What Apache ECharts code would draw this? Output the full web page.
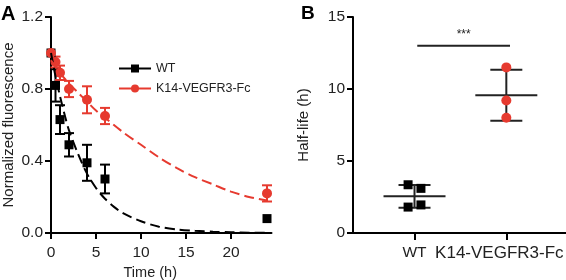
<!DOCTYPE html>
<html>
<head>
<meta charset="utf-8">
<script src="https://cdn.jsdelivr.net/npm/echarts@6/dist/echarts.min.js"></script>
<style>
html, body { margin: 0; background: #fff; }
#main { width: 566px; height: 280px; }
</style>
</head>
<body>
<div id="main"></div>
<script>
// panel A: time course (mean +/- error)
var wtTime = [0, 0.5, 1, 2, 4, 6, 24]
var wtMean = [1.0, 0.82, 0.63, 0.49, 0.39, 0.30, 0.08]
var wtErr = [0, 0.09, 0.08, 0.065, 0.10, 0.08, 0]
var kTime = [0, 0.5, 1, 2, 4, 6, 24]
var kMean = [1.0, 0.95, 0.89, 0.80, 0.74, 0.65, 0.22]
var kErr = [0, 0.03, 0.04, 0.045, 0.075, 0.045, 0.045]

// fitted decay curves
var wtFitT = [0, 0.5, 1, 1.5, 2, 3, 4, 5, 6, 7, 8, 10, 12, 14, 16, 18, 20, 22, 24]
var wtFitY = [1.0, 0.87, 0.76, 0.66, 0.57, 0.44, 0.33, 0.25, 0.19, 0.145, 0.11, 0.065, 0.035, 0.02, 0.012, 0.007, 0.004, 0.002, 0.001]
var kFitT = [0, 1, 2, 3, 4, 5, 6, 8, 10, 12, 14, 16, 18, 20, 22, 24]
var kFitY = [0.96, 0.89, 0.83, 0.78, 0.73, 0.68, 0.64, 0.56, 0.49, 0.42, 0.36, 0.31, 0.27, 0.23, 0.20, 0.18]

// panel B: half-lives
var groups = ['WT', 'K14-VEGFR3-Fc']
var wtHalfX = [0.93, 1.07, 0.93, 1.07]
var wtHalf = [3.35, 3.1, 1.8, 1.95]
var kHalfX = [2, 2, 2]
var kHalf = [11.5, 9.2, 8.0]
var sigX = [1.03, 2.04]
var sigY = 13
var sigText = '***'

var RED = '#e63a2f'
var FONT = 'Liberation Sans'

function mean(a) { return a.reduce(function (s, v) { return s + v }, 0) / a.length }
function sd(a) {
    var m = mean(a)
    return Math.sqrt(a.reduce(function (s, v) { return s + (v - m) * (v - m) }, 0) / (a.length - 1))
}
function zip(a, b, c) {
    return a.map(function (v, i) { return c ? [v, b[i], c[i]] : [v, b[i]] })
}

function errBar(color) {
    return function (params, api) {
        var x = api.value(0), y = api.value(1), e = api.value(2)
        if (!e) return
        var top = api.coord([x, y + e]), bot = api.coord([x, y - e])
        var st = { stroke: color, lineWidth: 2 }
        return {
            type: 'group',
            children: [
                { type: 'line', shape: { x1: top[0], y1: top[1], x2: bot[0], y2: bot[1] }, style: st },
                { type: 'line', shape: { x1: top[0] - 5, y1: top[1], x2: top[0] + 5, y2: top[1] }, style: st },
                { type: 'line', shape: { x1: bot[0] - 5, y1: bot[1], x2: bot[0] + 5, y2: bot[1] }, style: st }
            ]
        }
    }
}

function meanSd(params, api) {
    var x = api.value(0), m = api.value(1), s = api.value(2)
    var c = api.coord([x, m]), t = api.coord([x, m + s]), b = api.coord([x, m - s])
    var st = { stroke: '#222', lineWidth: 2 }
    return {
        type: 'group',
        children: [
            { type: 'line', shape: { x1: c[0] - 31, y1: c[1], x2: c[0] + 31, y2: c[1] }, style: st },
            { type: 'line', shape: { x1: t[0], y1: t[1], x2: b[0], y2: b[1] }, style: st },
            { type: 'line', shape: { x1: t[0] - 16, y1: t[1], x2: t[0] + 16, y2: t[1] }, style: st },
            { type: 'line', shape: { x1: b[0] - 16, y1: b[1], x2: b[0] + 16, y2: b[1] }, style: st }
        ]
    }
}

function sigBar(params, api) {
    var a = api.coord([api.value(0), api.value(2)]), b = api.coord([api.value(1), api.value(2)])
    return {
        type: 'group',
        children: [
            { type: 'line', shape: { x1: a[0], y1: a[1], x2: b[0], y2: b[1] }, style: { stroke: '#222', lineWidth: 2 } },
            { type: 'text', x: (a[0] + b[0]) / 2, y: a[1] - 11, style: { text: sigText, fill: '#222', font: '12px ' + FONT, align: 'center', verticalAlign: 'middle' } }
        ]
    }
}

var axisLine = { lineStyle: { color: '#000', width: 2 } }
var tickStyle = { lineStyle: { color: '#000', width: 2 }, length: 6 }
var labelStyle = { color: '#222', fontSize: 15.5, fontFamily: FONT }

var myChart = echarts.init(document.getElementById('main'))

myChart.setOption({
    animation: false,
    textStyle: { fontFamily: FONT },
    title: [
        { text: 'A', left: 1, top: 4, padding: 0, textStyle: { fontSize: 20, fontWeight: 'bold', color: '#000', fontFamily: FONT } },
        { text: 'B', left: 301, top: 4, padding: 0, textStyle: { fontSize: 19, fontWeight: 'bold', color: '#000', fontFamily: FONT } }
    ],
    legend: {
        orient: 'vertical',
        left: 113,
        top: 57,
        itemWidth: 32,
        itemHeight: 10,
        itemGap: 7,
        data: ['WT', 'K14-VEGFR3-Fc'],
        textStyle: { fontSize: 12.5, color: '#222', fontFamily: FONT }
    },
    grid: [
        { left: 51, top: 17, width: 220.5, height: 216, outerBoundsMode: 'none' },
        { left: 353, top: 17, width: 213, height: 216, outerBoundsMode: 'none' }
    ],
    xAxis: [
        {
            gridIndex: 0, type: 'value', min: 0, max: 24.5, interval: 5,
            name: 'Time (h)', nameLocation: 'middle', nameGap: 31,
            nameTextStyle: { fontSize: 14.5, color: '#222', fontFamily: FONT, padding: [0, 22, 0, 0] },
            axisLine: axisLine, axisTick: tickStyle, splitLine: { show: false },
            axisLabel: Object.assign({ margin: 12, showMaxLabel: false }, labelStyle)
        },
        {
            gridIndex: 1, type: 'value', min: 0.33, max: 2.65,
            axisLine: axisLine, splitLine: { show: false },
            axisTick: Object.assign({ customValues: [1, 2] }, tickStyle, { length: 7 }),
            axisLabel: Object.assign({
                customValues: [1, 2], margin: 12,
                formatter: function (v) { return v === 1 ? '{w|' + groups[0] + '}' : '{k|' + groups[1] + '}' },
                rich: {
                    w: { fontSize: 15.5, color: '#222', fontFamily: FONT },
                    k: { fontSize: 17, color: '#222', fontFamily: FONT, padding: [0, 14, 0, 0] }
                }
            }, labelStyle)
        }
    ],
    yAxis: [
        {
            gridIndex: 0, type: 'value', min: 0, max: 1.2, interval: 0.4,
            name: 'Normalized fluorescence', nameLocation: 'middle', nameGap: 35,
            nameTextStyle: { fontSize: 15, color: '#222', fontFamily: FONT },
            axisLine: axisLine, axisTick: tickStyle, splitLine: { show: false },
            axisLabel: Object.assign({ margin: 8, formatter: function (v) { return v.toFixed(1) } }, labelStyle)
        },
        {
            gridIndex: 1, type: 'value', min: 0, max: 15, interval: 5,
            name: 'Half-life (h)', nameLocation: 'middle', nameGap: 42,
            nameTextStyle: { fontSize: 15, color: '#222', fontFamily: FONT },
            axisLine: axisLine, axisTick: tickStyle, splitLine: { show: false },
            axisLabel: Object.assign({ margin: 8 }, labelStyle)
        }
    ],
    series: [
        // legend entries
        { name: 'WT', type: 'line', data: [], symbol: 'rect', symbolSize: 9, itemStyle: { color: '#000' }, lineStyle: { color: '#000', width: 2 } },
        { name: 'K14-VEGFR3-Fc', type: 'line', data: [], symbol: 'circle', symbolSize: 10, itemStyle: { color: RED }, lineStyle: { color: RED, width: 2 } },
        // fits
        {
            type: 'line', xAxisIndex: 0, yAxisIndex: 0, data: zip(wtFitT, wtFitY), smooth: 0.3, showSymbol: false,
            lineStyle: { color: '#000', width: 2, type: [10, 5] }
        },
        {
            type: 'line', xAxisIndex: 0, yAxisIndex: 0, data: zip(kFitT, kFitY), smooth: 0.3, showSymbol: false,
            lineStyle: { color: RED, width: 2, type: [10, 5] }
        },
        // WT points
        { type: 'custom', xAxisIndex: 0, yAxisIndex: 0, renderItem: errBar('#000'), data: zip(wtTime, wtMean, wtErr) },
        { type: 'scatter', xAxisIndex: 0, yAxisIndex: 0, symbol: 'rect', symbolSize: 9, itemStyle: { color: '#000', opacity: 1 }, data: zip(wtTime, wtMean) },
        // K14 points
        { type: 'custom', xAxisIndex: 0, yAxisIndex: 0, renderItem: errBar(RED), data: zip(kTime, kMean, kErr) },
        { type: 'scatter', xAxisIndex: 0, yAxisIndex: 0, symbol: 'circle', symbolSize: 10, itemStyle: { color: RED, opacity: 1 }, data: zip(kTime, kMean) },
        // panel B
        { type: 'custom', xAxisIndex: 1, yAxisIndex: 1, renderItem: meanSd, data: [[1, mean(wtHalf), sd(wtHalf)], [2, mean(kHalf), sd(kHalf)]] },
        { type: 'scatter', xAxisIndex: 1, yAxisIndex: 1, symbol: 'rect', symbolSize: 9, itemStyle: { color: '#000', opacity: 1 }, data: zip(wtHalfX, wtHalf) },
        { type: 'scatter', xAxisIndex: 1, yAxisIndex: 1, symbol: 'circle', symbolSize: 10, itemStyle: { color: RED, opacity: 1 }, data: zip(kHalfX, kHalf) },
        { type: 'custom', xAxisIndex: 1, yAxisIndex: 1, renderItem: sigBar, data: [[sigX[0], sigX[1], sigY]] }
    ]
})
</script>
</body>
</html>
